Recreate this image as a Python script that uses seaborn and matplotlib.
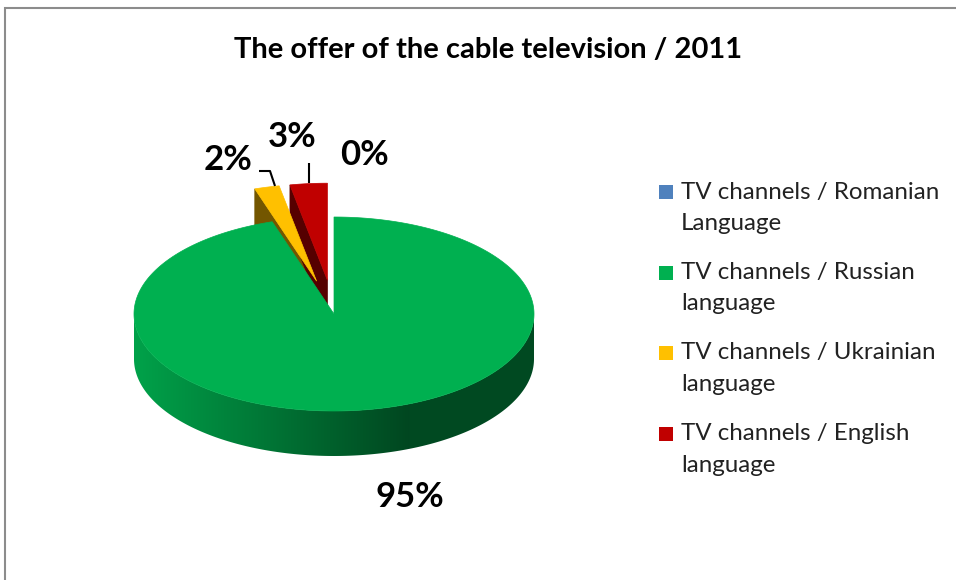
import numpy as np
import matplotlib
matplotlib.use("Agg")
import matplotlib.pyplot as plt
from matplotlib.patches import Polygon, Rectangle
import seaborn as sns

# ---- data -------------------------------------------------------------
title = "The offer of the cable television / 2011"
legend_lines = [
    ("TV channels / Romanian", "Language"),
    ("TV channels / Russian", "language"),
    ("TV channels / Ukrainian", "language"),
    ("TV channels / English", "language"),
]
shares = [0, 95, 2, 3]

# ---- style ------------------------------------------------------------
colors = ["#4F81BD", "#00B050", "#FFC000", "#C00000"]
explode = [0.0, 0.0, 0.35, 0.35]
label_pos = [(365, 155), (410, 497), (228, 160), (292, 137)]
leaders = [None, None, [(259, 171), (270, 171), (275, 186)], [(309, 163), (309, 183)]]

sns.set_theme(style="white")
plt.rcParams["font.family"] = ["Lato", "DejaVu Sans"]

fig = plt.figure(figsize=(9.56, 5.80), dpi=100)
ax = fig.add_axes([0, 0, 1, 1])
ax.axis("off")

# pie geometry (pixel space, angles clockwise from 12 o'clock)
CX, CY = 334, 314
RX, RY = 200, 97
DEPTH = 45


def pt(theta, r=1.0, off=(0.0, 0.0), dz=0.0):
    t = np.radians(theta)
    return (CX + off[0] + RX * r * np.sin(t), CY + off[1] - RY * r * np.cos(t) + dz)


def shade(color, f):
    rgb = np.array(matplotlib.colors.to_rgb(color))
    return tuple(np.clip(rgb * f, 0, 1))


total = float(sum(shares))
bounds = np.concatenate([[0], np.cumsum(shares)]) / total * 360.0
slices = []
for i, v in enumerate(shares):
    t0, t1 = bounds[i], bounds[i + 1]
    m = np.radians(0.5 * (t0 + t1))
    off = (explode[i] * RX * np.sin(m), -explode[i] * RY * np.cos(m))
    slices.append((i, t0, t1, off))

# exploded slices sit behind the large slice: draw them first
order = sorted(slices, key=lambda s: -explode[s[0]])
for i, t0, t1, off in order:
    if t1 - t0 <= 0:
        continue
    col = colors[i]
    dark = shade(col, 0.45)
    # visible radial cut faces
    if np.cos(np.radians(t0 - 90)) < 0:
        face = [pt(t0, 0, off), pt(t0, 1, off), pt(t0, 1, off, DEPTH), pt(t0, 0, off, DEPTH)]
        ax.add_patch(Polygon(face, closed=True, facecolor=dark, edgecolor=dark, lw=0.5, zorder=2))
    if np.cos(np.radians(t1 + 90)) < 0:
        face = [pt(t1, 0, off), pt(t1, 1, off), pt(t1, 1, off, DEPTH), pt(t1, 0, off, DEPTH)]
        ax.add_patch(Polygon(face, closed=True, facecolor=dark, edgecolor=dark, lw=0.5, zorder=2))
    # outer curved wall on the front half, lit from the left
    lo, hi = max(t0, 90.0), min(t1, 270.0)
    if hi > lo:
        ths = np.linspace(lo, hi, 400)
        wall = [pt(a, 1, off) for a in ths] + [pt(a, 1, off, DEPTH) for a in ths[::-1]]
        clip = Polygon(wall, closed=True, facecolor="none", edgecolor="none")
        ax.add_patch(clip)
        x_left, x_right = CX + off[0] - RX, CX + off[0] + RX
        xs = np.linspace(x_left, x_right, 512)
        x_dark = 410.0
        t = np.clip((xs - x_left) / (x_dark - x_left), 0, 1)
        f = np.where(xs <= x_dark, 0.92 - 0.52 * t, 0.42)
        grad = np.array(matplotlib.colors.to_rgb(col))[None, None, :] * f[None, :, None]
        ys = [p[1] for p in wall]
        im = ax.imshow(np.clip(grad, 0, 1), extent=(x_left, x_right, max(ys), min(ys)),
                       aspect="auto", interpolation="bilinear", zorder=2)
        im.set_clip_path(clip)
    # top face
    arc = np.linspace(t0, t1, max(int((t1 - t0) * 2), 2) + 1)
    top = [pt(0, 0, off)] + [pt(a, 1, off) for a in arc]
    ax.add_patch(Polygon(top, closed=True, facecolor=col, edgecolor=col, lw=0.5, zorder=3))

ax.set_xlim(0, 956)
ax.set_ylim(580, 0)

# value labels
for i, v in enumerate(shares):
    x, y = label_pos[i]
    ax.text(x, y, f"{v:.0f}%", ha="center", va="center", fontsize=25,
            fontweight="bold", color="black", zorder=5)
    if leaders[i]:
        xs_, ys_ = zip(*leaders[i])
        ax.plot(xs_, ys_, color="black", lw=1.5, zorder=5, solid_capstyle="butt")

# title
ax.text(488, 50, title, ha="center", va="center", fontsize=21,
        fontweight="bold", color="black")

# legend
for i, (l1, l2) in enumerate(legend_lines):
    y0 = 192 + 80.5 * i
    ax.add_patch(Rectangle((659, y0 - 7), 14, 14, facecolor=colors[i], edgecolor="none"))
    ax.text(681, y0, l1, ha="left", va="center", fontsize=17.4, color="#222222")
    ax.text(681, y0 + 31.5, l2, ha="left", va="center", fontsize=17.4, color="#222222")

# chart frame
ax.plot([5, 5, 956], [580, 8, 8], color="#8c8c8c", lw=1.5, solid_joinstyle="miter")

fig.savefig("out.png", dpi=100)
